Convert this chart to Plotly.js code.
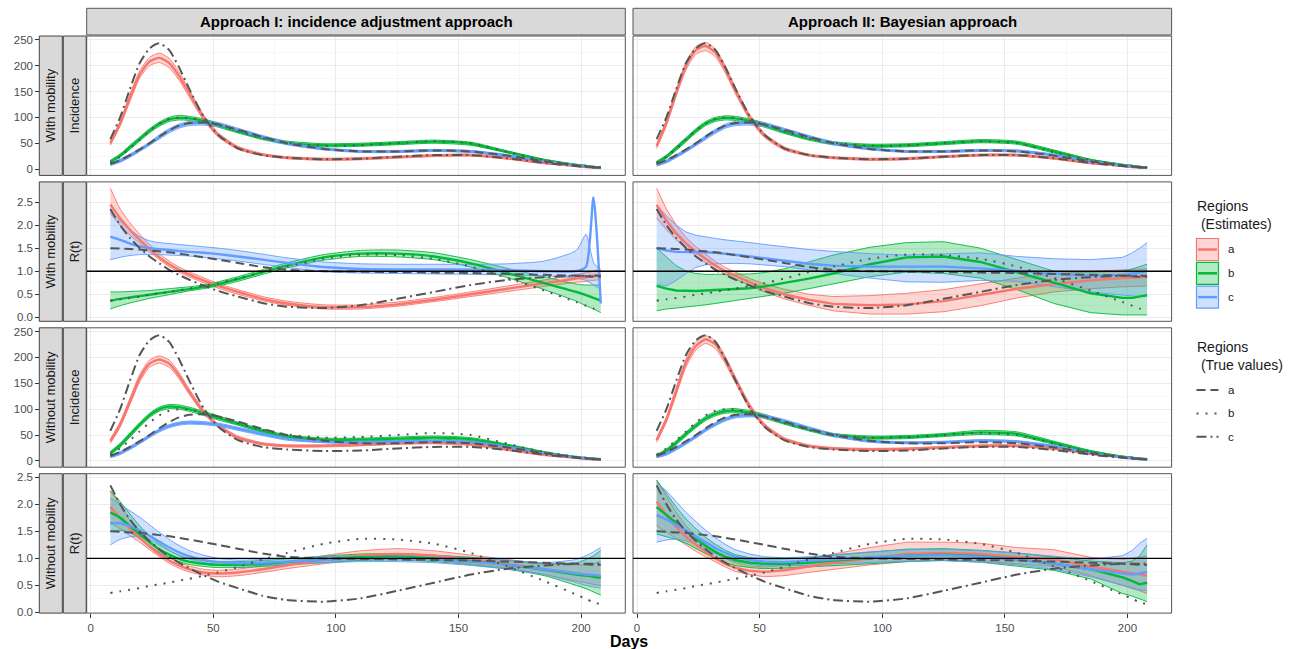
<!DOCTYPE html>
<html><head><meta charset="utf-8">
<script src="https://cdn.plot.ly/plotly-3.0.1.min.js"></script>
<style>html,body{margin:0;padding:0;background:#fff}#chart{width:1298px;height:649px}</style>
</head><body><div id="chart"></div>
<script>
// ---------- data ----------
const days = [8,12,16,20,24,28,32,36,40,46,52,60,70,80,95,110,125,140,155,170,185,198,202,205,208];
const regions = ['a','b','c'];
const columnLabels = ['Approach I: incidence adjustment approach','Approach II: Bayesian approach'];
const outerRowLabels = ['With mobility','With mobility','Without mobility','Without mobility'];
const innerRowLabels = ['Incidence','R(t)','Incidence','R(t)'];
const incidenceTicks = [0,50,100,150,200,250];
const rtTicks = [0,0.5,1,1.5,2,2.5];
const rtTickText = ['0.0','0.5','1.0','1.5','2.0','2.5'];
const dayTicks = [0,50,100,150,200];
const dayMinor = [25,75,125,175];
const refLevel = 1;

// true values
const trueIncA = [10,17,27,38,50,63,75,84,89,90,86,76,62,50,39,34,34,36,34,26,15,7,5,4,3];
const trueIncB = [12,24,40,57,74,88,97,100,99,94,86,73,60,51,45,46,50,54,50,33,17,8,6,4,3];
const trueIncC = [58,100,155,205,233,243,230,197,157,102,66,40,27,22,19,20,24,27,27,21,12,6,4,3,3];
const trueRtA = [1.5,1.49,1.48,1.47,1.45,1.43,1.41,1.38,1.35,1.3,1.25,1.18,1.09,1.03,1.0,0.99,0.98,0.97,0.96,0.94,0.92,0.9,0.89,0.88,0.88];
const trueRtB = [0.36,0.39,0.42,0.45,0.49,0.52,0.55,0.59,0.62,0.68,0.74,0.84,0.98,1.1,1.27,1.36,1.35,1.27,1.1,0.85,0.58,0.33,0.25,0.19,0.15];
const trueRtC = [2.35,2.0,1.72,1.5,1.32,1.17,1.03,0.92,0.82,0.69,0.57,0.45,0.31,0.23,0.2,0.26,0.4,0.55,0.7,0.81,0.87,0.9,0.9,0.9,0.9];

// panel 1: Approach I, incidence, with mobility
const p1a_med = [50,88,138,183,208,215,205,180,148,100,66,41,28,22,19,20,23,26,27,21,12,6,4,3,3];
const p1a_lo  = [46,83,131,176,200,206,196,172,141,95,62,38,26,20,17,18,21,24,25,19,10,5,3,2,2];
const p1a_hi  = [55,93,145,190,216,224,214,188,155,105,70,44,30,24,21,22,25,28,29,23,14,7,5,4,4];
const p1b_med = [14,26,42,58,74,87,96,99,98,93,85,73,60,51,46,47,50,53,49,33,17,8,6,4,3];
const p1b_lo  = [11,23,38,54,70,83,92,95,94,89,81,70,57,48,43,44,47,50,46,31,15,7,5,3,2];
const p1b_hi  = [17,29,46,62,78,91,100,104,102,97,89,76,63,54,49,50,53,56,52,35,19,9,7,5,4];
const p1c_med = [9,16,26,37,49,62,74,83,88,89,86,76,62,50,39,34,34,36,34,26,15,7,5,4,3];
const p1c_lo  = [7,13,23,34,46,58,70,79,84,85,82,73,59,47,37,32,32,34,32,24,13,6,4,3,2];
const p1c_hi  = [11,19,29,40,52,66,78,87,92,93,90,79,65,53,41,36,36,38,36,28,17,8,6,5,4];

// panel 2: Approach II, incidence, with mobility
const p2a_med = [44,90,148,200,230,238,225,193,153,100,65,40,27,22,19,20,24,27,27,21,12,6,4,3,3];
const p2a_lo  = [40,84,141,192,222,229,217,186,147,95,61,37,25,20,17,18,22,25,25,19,10,5,3,2,2];
const p2a_hi  = [48,95,154,207,237,245,232,200,159,105,69,43,29,24,21,22,26,29,29,23,14,7,5,4,4];
const p2b_med = [12,24,40,57,74,88,96,99,98,93,85,72,59,50,45,46,50,54,51,34,17,8,6,4,3];
const p2b_lo  = [9,21,36,53,70,84,92,95,94,89,81,69,56,47,42,43,47,51,48,31,15,7,5,3,2];
const p2b_hi  = [15,27,44,61,78,92,100,103,102,97,89,75,62,53,48,49,53,57,54,37,19,9,7,5,4];
const p2c_med = [8,15,25,36,48,61,73,83,88,89,86,76,62,50,39,34,34,36,35,27,15,7,5,4,3];
const p2c_lo  = [6,12,22,33,45,57,69,79,84,85,82,73,59,47,37,32,32,34,33,25,13,6,4,3,2];
const p2c_hi  = [10,18,28,39,51,65,77,87,92,93,90,79,65,53,41,36,36,38,37,29,17,8,6,5,4];

// panel 3: Approach I, R(t), with mobility
const p3a_med = [2.45,2.15,1.9,1.68,1.48,1.3,1.15,1.03,0.93,0.8,0.68,0.55,0.4,0.3,0.22,0.22,0.28,0.38,0.5,0.62,0.74,0.84,0.87,0.9,0.92];
const p3a_lo  = [2.25,2.0,1.78,1.6,1.42,1.25,1.1,0.98,0.88,0.75,0.63,0.5,0.36,0.26,0.18,0.18,0.24,0.34,0.45,0.56,0.67,0.76,0.78,0.8,0.82];
const p3a_hi  = [2.8,2.35,2.05,1.8,1.58,1.38,1.22,1.09,0.99,0.86,0.73,0.6,0.45,0.35,0.27,0.27,0.33,0.43,0.55,0.68,0.81,0.93,0.97,1.0,1.05];
const p3b_med = [0.36,0.4,0.43,0.46,0.49,0.52,0.55,0.58,0.61,0.66,0.72,0.83,0.98,1.12,1.3,1.38,1.38,1.32,1.17,0.96,0.74,0.55,0.48,0.42,0.36];
const p3b_lo  = [0.18,0.25,0.31,0.36,0.41,0.45,0.49,0.53,0.57,0.62,0.68,0.78,0.93,1.07,1.24,1.32,1.31,1.25,1.09,0.86,0.6,0.35,0.25,0.18,0.1];
const p3b_hi  = [0.55,0.55,0.56,0.57,0.58,0.6,0.62,0.64,0.66,0.7,0.77,0.88,1.03,1.18,1.36,1.45,1.46,1.4,1.25,1.06,0.88,0.72,0.7,0.7,0.7];
const p3c_med = [1.75,1.68,1.6,1.54,1.5,1.48,1.46,1.44,1.42,1.4,1.37,1.32,1.25,1.18,1.09,1.05,1.04,1.04,1.03,1.02,1.0,1.0,1.1,2.6,0.3];
const p3c_lo  = [1.25,1.3,1.34,1.36,1.36,1.36,1.35,1.34,1.33,1.3,1.27,1.22,1.15,1.08,0.99,0.96,0.95,0.94,0.93,0.92,0.9,0.85,0.8,0.7,0.6];
const p3c_hi  = [2.3,2.1,1.9,1.75,1.66,1.62,1.6,1.58,1.56,1.53,1.5,1.45,1.37,1.29,1.2,1.16,1.15,1.15,1.15,1.16,1.22,1.45,1.8,1.2,1.0];

// panel 4: Approach II, R(t), with mobility
const p4a_med = [2.44,2.1,1.82,1.6,1.42,1.26,1.12,1.0,0.9,0.76,0.63,0.5,0.38,0.29,0.26,0.28,0.35,0.48,0.62,0.72,0.8,0.85,0.86,0.87,0.88];
const p4a_lo  = [2.15,1.9,1.68,1.5,1.33,1.18,1.05,0.93,0.83,0.69,0.55,0.4,0.26,0.14,0.07,0.07,0.12,0.25,0.42,0.55,0.62,0.66,0.67,0.68,0.68];
const p4a_hi  = [2.8,2.35,2.0,1.73,1.53,1.36,1.21,1.08,0.98,0.84,0.72,0.61,0.5,0.45,0.47,0.52,0.6,0.72,0.85,0.95,1.0,1.03,1.04,1.05,1.05];
const p4b_med = [0.68,0.62,0.58,0.57,0.57,0.58,0.59,0.6,0.61,0.63,0.67,0.74,0.84,0.95,1.15,1.3,1.32,1.2,0.98,0.75,0.52,0.42,0.42,0.45,0.48];
const p4b_lo  = [0.14,0.18,0.2,0.22,0.24,0.27,0.3,0.33,0.36,0.4,0.45,0.52,0.62,0.72,0.88,0.98,0.95,0.85,0.6,0.3,0.1,0.05,0.05,0.05,0.05];
const p4b_hi  = [1.5,1.3,1.12,1.0,0.95,0.93,0.93,0.93,0.93,0.94,0.97,1.05,1.2,1.35,1.52,1.62,1.64,1.5,1.25,1.0,0.98,1.0,1.05,1.1,1.15];
const p4c_med = [1.5,1.45,1.42,1.42,1.42,1.41,1.4,1.38,1.36,1.32,1.28,1.22,1.16,1.12,1.1,1.1,1.1,1.06,1.0,0.95,0.9,0.92,0.95,0.97,1.0];
const p4c_lo  = [0.72,0.68,0.8,0.95,1.08,1.14,1.16,1.17,1.17,1.16,1.14,1.1,1.03,0.95,0.85,0.77,0.76,0.8,0.78,0.66,0.55,0.48,0.46,0.45,0.45];
const p4c_hi  = [2.44,2.2,2.0,1.85,1.78,1.74,1.71,1.68,1.66,1.62,1.58,1.53,1.47,1.43,1.38,1.35,1.38,1.4,1.32,1.27,1.25,1.3,1.4,1.5,1.62];

// panel 5: Approach I, incidence, without mobility
const p5a_med = [38,70,115,160,188,196,188,165,135,95,68,45,33,29,29,31,34,35,32,22,12,6,4,3,3];
const p5a_lo  = [34,65,109,153,181,189,181,159,130,91,65,42,31,27,27,29,32,33,30,20,10,5,3,2,2];
const p5a_hi  = [42,75,121,167,195,203,195,171,140,99,71,48,35,31,31,33,36,37,34,24,14,7,5,4,4];
const p5b_med = [15,30,50,70,88,100,105,104,100,92,83,72,58,47,41,41,43,45,42,30,16,7,5,4,3];
const p5b_lo  = [12,26,46,66,84,96,101,100,96,88,79,69,55,44,38,38,40,42,39,28,14,6,4,3,2];
const p5b_hi  = [18,34,54,74,92,104,109,108,104,96,87,75,61,50,44,44,46,48,45,32,18,8,6,5,4];
const p5c_med = [8,15,25,36,48,59,67,72,74,73,70,62,52,43,37,36,37,38,36,27,15,7,5,4,3];
const p5c_lo  = [6,12,22,33,45,56,64,69,71,70,67,59,49,40,35,34,35,36,34,25,13,6,4,3,2];
const p5c_hi  = [10,18,28,39,51,62,70,75,77,76,73,65,55,46,39,38,39,40,38,29,17,8,6,5,4];

// panel 6: Approach II, incidence, without mobility
const p6a_med = [40,80,135,190,222,235,225,195,158,105,68,42,29,24,22,23,26,29,29,24,14,7,5,4,3];
const p6a_lo  = [36,75,128,182,214,227,217,188,152,100,64,39,27,22,20,21,24,27,27,22,12,6,4,3,2];
const p6a_hi  = [44,85,142,197,230,242,232,202,164,110,72,45,31,26,24,25,28,31,31,26,16,8,6,5,4];
const p6b_med = [10,20,35,52,68,82,91,96,97,93,86,74,61,50,45,46,50,55,52,35,18,8,6,4,3];
const p6b_lo  = [8,17,31,48,64,78,87,92,93,89,82,71,58,47,42,43,47,51,48,32,16,7,5,3,2];
const p6b_hi  = [12,23,39,56,72,86,95,100,101,97,90,77,64,53,48,49,53,59,56,38,20,9,7,5,4];
const p6c_med = [8,14,24,35,47,60,71,80,86,88,86,77,63,50,38,35,36,39,37,28,15,7,5,4,3];
const p6c_lo  = [6,11,21,32,44,57,68,77,83,85,83,74,60,47,36,33,34,37,35,26,13,6,4,3,2];
const p6c_hi  = [10,17,27,38,50,63,74,83,89,91,89,80,66,53,40,37,38,41,39,30,17,8,6,5,4];

// panel 7: Approach I, R(t), without mobility
const p7a_med = [1.95,1.75,1.55,1.38,1.22,1.08,0.96,0.87,0.8,0.74,0.72,0.74,0.8,0.87,0.97,1.05,1.08,1.05,0.98,0.9,0.8,0.72,0.7,0.68,0.66];
const p7a_lo  = [1.65,1.55,1.42,1.3,1.16,1.03,0.91,0.82,0.75,0.69,0.66,0.68,0.74,0.81,0.9,0.97,1.0,0.97,0.9,0.82,0.7,0.58,0.55,0.52,0.5];
const p7a_hi  = [2.25,2.0,1.7,1.48,1.3,1.14,1.02,0.93,0.86,0.8,0.78,0.8,0.87,0.94,1.05,1.14,1.18,1.14,1.06,0.98,0.9,0.88,0.88,0.9,0.95];
const p7b_med = [1.85,1.75,1.6,1.45,1.3,1.17,1.07,0.99,0.94,0.9,0.88,0.88,0.9,0.93,0.98,1.02,1.03,1.0,0.95,0.88,0.79,0.7,0.68,0.66,0.64];
const p7b_lo  = [1.5,1.52,1.48,1.36,1.23,1.11,1.01,0.94,0.89,0.85,0.83,0.83,0.85,0.88,0.92,0.96,0.97,0.94,0.88,0.8,0.68,0.5,0.44,0.38,0.32];
const p7b_hi  = [2.25,2.05,1.82,1.6,1.42,1.27,1.15,1.06,1.0,0.96,0.94,0.94,0.96,0.99,1.04,1.08,1.09,1.06,1.02,0.96,0.9,0.92,0.98,1.05,1.15];
const p7c_med = [1.65,1.65,1.6,1.52,1.42,1.31,1.2,1.11,1.04,0.97,0.93,0.91,0.92,0.94,0.97,0.99,1.0,0.98,0.94,0.88,0.8,0.72,0.7,0.69,0.68];
const p7c_lo  = [1.25,1.35,1.4,1.4,1.34,1.24,1.14,1.05,0.99,0.92,0.88,0.86,0.87,0.89,0.92,0.94,0.94,0.92,0.87,0.8,0.7,0.55,0.5,0.47,0.45];
const p7c_hi  = [2.12,2.0,1.88,1.76,1.62,1.48,1.35,1.24,1.15,1.06,1.0,0.97,0.98,1.0,1.03,1.05,1.06,1.05,1.01,0.97,0.92,0.98,1.05,1.12,1.2];

// panel 8: Approach II, R(t), without mobility
const p8a_med = [2.05,1.8,1.58,1.4,1.25,1.12,1.0,0.9,0.83,0.77,0.75,0.78,0.85,0.92,1.0,1.08,1.1,1.08,1.02,0.98,0.85,0.75,0.72,0.7,0.68];
const p8a_lo  = [1.6,1.48,1.36,1.24,1.13,1.03,0.93,0.84,0.76,0.7,0.66,0.68,0.74,0.8,0.88,0.94,0.97,0.95,0.9,0.85,0.68,0.5,0.45,0.4,0.35];
const p8a_hi  = [2.45,2.15,1.85,1.6,1.42,1.26,1.12,1.0,0.92,0.86,0.84,0.88,0.97,1.08,1.2,1.3,1.3,1.28,1.2,1.16,1.02,0.98,1.0,1.02,1.05];
const p8b_med = [1.95,1.8,1.65,1.5,1.36,1.23,1.12,1.03,0.97,0.92,0.9,0.9,0.92,0.96,1.0,1.05,1.07,1.04,0.98,0.9,0.8,0.65,0.58,0.52,0.55];
const p8b_lo  = [1.45,1.4,1.35,1.28,1.18,1.08,0.99,0.92,0.87,0.83,0.81,0.82,0.84,0.87,0.9,0.94,0.96,0.93,0.86,0.78,0.62,0.35,0.3,0.25,0.2];
const p8b_hi  = [2.45,2.2,1.95,1.73,1.55,1.39,1.26,1.15,1.07,1.01,0.99,0.99,1.01,1.06,1.12,1.17,1.18,1.15,1.1,1.02,0.95,0.92,0.95,1.05,1.25];
const p8c_med = [1.8,1.72,1.62,1.51,1.4,1.29,1.19,1.1,1.03,0.97,0.94,0.93,0.95,0.98,1.02,1.05,1.06,1.03,0.98,0.9,0.8,0.72,0.7,0.72,0.75];
const p8c_lo  = [1.3,1.34,1.36,1.33,1.26,1.17,1.08,1.0,0.94,0.89,0.86,0.86,0.87,0.9,0.93,0.95,0.96,0.93,0.88,0.8,0.66,0.5,0.45,0.42,0.4];
const p8c_hi  = [2.4,2.25,2.05,1.85,1.68,1.52,1.38,1.26,1.16,1.08,1.03,1.01,1.03,1.07,1.12,1.16,1.17,1.14,1.1,1.04,0.98,1.05,1.15,1.28,1.37];

// ---------- assembly ----------
const estimates = {
  1:{a:[p1a_med,p1a_lo,p1a_hi],b:[p1b_med,p1b_lo,p1b_hi],c:[p1c_med,p1c_lo,p1c_hi]},
  2:{a:[p2a_med,p2a_lo,p2a_hi],b:[p2b_med,p2b_lo,p2b_hi],c:[p2c_med,p2c_lo,p2c_hi]},
  3:{a:[p3a_med,p3a_lo,p3a_hi],b:[p3b_med,p3b_lo,p3b_hi],c:[p3c_med,p3c_lo,p3c_hi]},
  4:{a:[p4a_med,p4a_lo,p4a_hi],b:[p4b_med,p4b_lo,p4b_hi],c:[p4c_med,p4c_lo,p4c_hi]},
  5:{a:[p5a_med,p5a_lo,p5a_hi],b:[p5b_med,p5b_lo,p5b_hi],c:[p5c_med,p5c_lo,p5c_hi]},
  6:{a:[p6a_med,p6a_lo,p6a_hi],b:[p6b_med,p6b_lo,p6b_hi],c:[p6c_med,p6c_lo,p6c_hi]},
  7:{a:[p7a_med,p7a_lo,p7a_hi],b:[p7b_med,p7b_lo,p7b_hi],c:[p7c_med,p7c_lo,p7c_hi]},
  8:{a:[p8a_med,p8a_lo,p8a_hi],b:[p8b_med,p8b_lo,p8b_hi],c:[p8c_med,p8c_lo,p8c_hi]}
};
const truthInc = {a:trueIncA,b:trueIncB,c:trueIncC};
const truthRt = {a:trueRtA,b:trueRtB,c:trueRtC};

const W=1298, H=649;
const colPx=[[86.7,625.3],[633,1171.6]];
const rowPx=[[36,175.4],[181.9,321.3],[327.8,467.2],[473.7,613.1]];
const yRanges=[[-12.25,257.25],[-0.0875,2.9375],[-12.25,257.25],[-0.012,2.566]];
const xRange=[-1.63,218];
const colors={a:'#F8766D',b:'#00BA38',c:'#619CFF'};
const fills={a:'rgba(248,118,109,0.3)',b:'rgba(0,186,56,0.3)',c:'rgba(97,156,255,0.3)'};
const truthDash={a:'9px,5px',b:'2px,7px',c:'10px,4px,2px,4px'};
const truthColor='#555555';
const FONT='Liberation Sans, Arial, Helvetica, sans-serif';
const px=(x)=>x/W, py=(y)=>1-y/H;

const traces=[]; const layout={
  width:W,height:H,margin:{l:0,r:0,t:0,b:0},autosize:false,showlegend:false,
  paper_bgcolor:'#fff',plot_bgcolor:'#fff',font:{family:FONT,color:'#1A1A1A'},
  shapes:[],annotations:[]
};

for(let r=0;r<4;r++){
  for(let c=0;c<2;c++){
    const k=r*2+c+1;
    const xa='x'+k, ya='y'+k;
    const isRt = (r%2===1);
    const bayes = (c===1);
    const shape = (isRt && bayes) ? 'linear' : 'spline';
    const est = estimates[k];
    regions.forEach(g=>{
      const [med,lo,hi]=est[g];
      traces.push({x:days,y:lo,xaxis:xa,yaxis:ya,mode:'lines',hoverinfo:'skip',
        line:{color:colors[g],width:0.9,shape:shape,smoothing:0.6}});
      traces.push({x:days,y:hi,xaxis:xa,yaxis:ya,mode:'lines',hoverinfo:'skip',fill:'tonexty',fillcolor:fills[g],
        line:{color:colors[g],width:0.9,shape:shape,smoothing:0.6}});
    });
    regions.forEach(g=>{
      traces.push({x:days,y:est[g][0],xaxis:xa,yaxis:ya,mode:'lines',hoverinfo:'skip',
        line:{color:colors[g],width:2.4,shape:shape,smoothing:0.6}});
    });
    const truth = isRt ? truthRt : truthInc;
    regions.forEach(g=>{
      traces.push({x:days,y:truth[g],xaxis:xa,yaxis:ya,mode:'lines',hoverinfo:'skip',
        line:{color:truthColor,width:2,dash:truthDash[g],shape:'spline',smoothing:0.6}});
    });

    const xkey='xaxis'+(k===1?'':k), ykey='yaxis'+(k===1?'':k);
    layout[xkey]={domain:[px(colPx[c][0]),px(colPx[c][1])],range:xRange,anchor:ya,
      tickmode:'array',tickvals:dayTicks,showticklabels:r===3,ticks:r===3?'outside':'',ticklen:4,tickwidth:1,tickcolor:'#333',
      tickfont:{size:11.5,color:'#4D4D4D',family:FONT},showgrid:true,gridcolor:'#EBEBEB',gridwidth:1,
      minor:{tickmode:'array',tickvals:dayMinor,showgrid:true,gridcolor:'#F2F2F2',gridwidth:0.6,ticks:''},
      zeroline:false,showline:false,fixedrange:true};
    const yax={domain:[py(rowPx[r][1]),py(rowPx[r][0])],range:yRanges[r],
      tickmode:'array',tickvals:isRt?rtTicks:incidenceTicks,showticklabels:c===0,ticks:c===0?'outside':'',ticklen:4,tickwidth:1,tickcolor:'#333',
      tickfont:{size:11.5,color:'#4D4D4D',family:FONT},showgrid:true,gridcolor:'#EBEBEB',gridwidth:1,
      minor:{tickmode:'array',tickvals:isRt?[0.25,0.75,1.25,1.75,2.25,2.75]:[25,75,125,175,225],showgrid:true,gridcolor:'#F2F2F2',gridwidth:0.6,ticks:''},
      zeroline:false,showline:false,fixedrange:true};
    if(isRt){yax.ticktext=rtTickText;}
    if(c===0){yax.anchor='free';yax.position=px(39.3);} else {yax.anchor=xa;}
    layout[ykey]=yax;

    // panel border
    layout.shapes.push({type:'rect',xref:'paper',yref:'paper',x0:px(colPx[c][0]),x1:px(colPx[c][1]),y0:py(rowPx[r][1]),y1:py(rowPx[r][0]),
      line:{color:'#555',width:1},fillcolor:'rgba(0,0,0,0)',layer:'above'});
    // reference line at R(t)=1
    if(isRt){
      layout.shapes.push({type:'line',xref:xa+' domain',yref:ya,x0:0,x1:1,y0:refLevel,y1:refLevel,line:{color:'#000',width:1.4},layer:'above'});
    }
  }
}

// column strips
for(let c=0;c<2;c++){
  layout.shapes.push({type:'rect',xref:'paper',yref:'paper',x0:px(colPx[c][0]),x1:px(colPx[c][1]),y0:py(35),y1:py(8.3),
    fillcolor:'#D9D9D9',line:{color:'#555',width:1},layer:'above'});
  layout.annotations.push({xref:'paper',yref:'paper',x:px((colPx[c][0]+colPx[c][1])/2),y:py(21.8),
    text:'<b>'+columnLabels[c]+'</b>',showarrow:false,xanchor:'center',yanchor:'middle',font:{size:15,color:'#000',family:FONT}});
}
// row strips
for(let r=0;r<4;r++){
  [[39.3,62.3,outerRowLabels[r]],[63.3,86.2,innerRowLabels[r]]].forEach(([x0,x1,t])=>{
    layout.shapes.push({type:'rect',xref:'paper',yref:'paper',x0:px(x0),x1:px(x1),y0:py(rowPx[r][1]),y1:py(rowPx[r][0]),
      fillcolor:'#D9D9D9',line:{color:'#444',width:1},layer:'above'});
    layout.annotations.push({xref:'paper',yref:'paper',x:px((x0+x1)/2),y:py((rowPx[r][0]+rowPx[r][1])/2),
      text:t,textangle:-90,showarrow:false,xanchor:'center',yanchor:'middle',font:{size:13,color:'#1A1A1A',family:FONT}});
  });
}
// axis title
layout.annotations.push({xref:'paper',yref:'paper',x:px(629),y:py(641),text:'<b>Days</b>',showarrow:false,
  xanchor:'center',yanchor:'middle',font:{size:16,color:'#000',family:FONT}});

// legends
const legX0=1196.5, legX1=1218.5, legLab=1226;
layout.annotations.push({xref:'paper',yref:'paper',x:px(1195),y:py(206),text:'Regions',showarrow:false,xanchor:'left',yanchor:'middle',font:{size:14,family:FONT,color:'#1A1A1A'}});
layout.annotations.push({xref:'paper',yref:'paper',x:px(1195),y:py(224),text:'\u00a0(Estimates)',showarrow:false,xanchor:'left',yanchor:'middle',font:{size:14,family:FONT,color:'#1A1A1A'}});
regions.forEach((g,i)=>{
  const y0=238.5+i*23.8, y1=y0+22, ym=(y0+y1)/2;
  layout.shapes.push({type:'rect',xref:'paper',yref:'paper',x0:px(legX0),x1:px(legX1),y0:py(y1),y1:py(y0),fillcolor:fills[g],line:{color:colors[g],width:1.2}});
  layout.shapes.push({type:'line',xref:'paper',yref:'paper',x0:px(legX0+1.5),x1:px(legX1-1.5),y0:py(ym),y1:py(ym),line:{color:colors[g],width:2.5}});
  layout.annotations.push({xref:'paper',yref:'paper',x:px(legLab),y:py(ym),text:g,showarrow:false,xanchor:'left',yanchor:'middle',font:{size:11.5,family:FONT,color:'#1A1A1A'}});
});
layout.annotations.push({xref:'paper',yref:'paper',x:px(1195),y:py(347),text:'Regions',showarrow:false,xanchor:'left',yanchor:'middle',font:{size:14,family:FONT,color:'#1A1A1A'}});
layout.annotations.push({xref:'paper',yref:'paper',x:px(1195),y:py(365),text:'\u00a0(True values)',showarrow:false,xanchor:'left',yanchor:'middle',font:{size:14,family:FONT,color:'#1A1A1A'}});
regions.forEach((g,i)=>{
  const ym=390+i*23.4;
  layout.shapes.push({type:'line',xref:'paper',yref:'paper',x0:px(legX0),x1:px(legX1),y0:py(ym),y1:py(ym),line:{color:truthColor,width:2,dash:truthDash[g]}});
  layout.annotations.push({xref:'paper',yref:'paper',x:px(legLab),y:py(ym),text:g,showarrow:false,xanchor:'left',yanchor:'middle',font:{size:11.5,family:FONT,color:'#1A1A1A'}});
});

Plotly.newPlot('chart',traces,layout,{staticPlot:true,displayModeBar:false});
</script></body></html>
